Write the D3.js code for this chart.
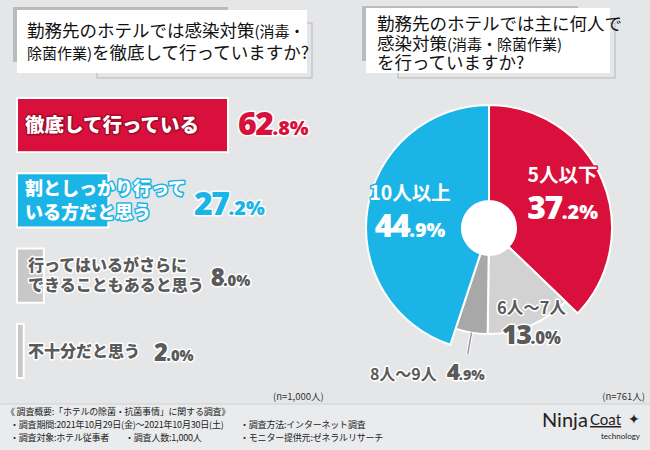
<!DOCTYPE html>
<html><head><meta charset="utf-8">
<script src="https://cdn.jsdelivr.net/npm/d3@7"></script>
<style>
html,body{margin:0;padding:0;background:#e4e6e8;}
svg{display:block;font-family:"Noto Sans CJK JP","Noto Sans",sans-serif;}
</style></head>
<body>
<svg id="chart" width="650" height="450"></svg>
<script>
// ---- data ----
const barCategories = [["徹底して行っている"], ["割としっかり行って","いる方だと思う"], ["行ってはいるがさらに","できることもあると思う"], ["不十分だと思う"]];
const barValues = [62.8, 27.2, 8.0, 2.0];
const pieCategories = ["5人以下", "6人〜7人", "8人〜9人", "10人以上"];
const pieValues = [37.2, 13.0, 4.9, 44.9];
const leftTitle = [["勤務先のホテルでは感染対策", "(消毒・"], ["除菌作業)", "を徹底して行っていますか?"]];
const rightTitle = [["勤務先のホテルでは主に何人で"], ["感染対策", "(消毒・除菌作業)"], ["を行っていますか?"]];
const nLeft = "(n=1,000人)";
const nRight = "(n=761人)";
const footerLines = [
  {x: 6, y: 415, t: "《 調査概要:「ホテルの除菌・抗菌事情」に関する調査》"},
  {x: 10, y: 428, t: "・調査期間:2021年10月29日(金)〜2021年10月30日(土)"},
  {x: 240, y: 428, t: "・調査方法:インターネット調査"},
  {x: 10, y: 441, t: "・調査対象:ホテル従事者"},
  {x: 125, y: 441, t: "・調査人数:1,000人"},
  {x: 240, y: 441, t: "・モニター提供元:ゼネラルリサーチ"}
];

const RED = "#d8103b", BLUE = "#1bb4e6", GRAY_BAR = "#c8c8c8", DARK = "#5a5a5a";
const barColors = [RED, BLUE, GRAY_BAR, GRAY_BAR];
const barTextFill = ["#fff", "#fff", DARK, DARK];
const barTextStroke = ["#a50a2a", BLUE, "#fff", "#fff"];
const valueFill = [RED, BLUE, DARK, DARK];
const pieColors = [RED, "#d2d2d2", "#a8a8a8", BLUE];

const svg = d3.select("#chart");

// footer band
svg.append("rect").attr("x", 0).attr("y", 404).attr("width", 650).attr("height", 46).attr("fill", "#eaebed");
svg.append("line").attr("x1", 0).attr("x2", 650).attr("y1", 404).attr("y2", 404).attr("stroke", "#cfd1d3");

// ---- title boxes ----
function titleBox(g, sh, wb, ol) {
  g.append("rect").attr("x", sh[0]).attr("y", sh[1]).attr("width", sh[2]).attr("height", sh[3]).attr("fill", "#b9bbbd");
  g.append("rect").attr("x", ol[0]).attr("y", ol[1]).attr("width", ol[2]).attr("height", ol[3]).attr("fill", "none").attr("stroke", "#b5b7b9").attr("stroke-width", 1);
  g.append("rect").attr("x", wb[0]).attr("y", wb[1]).attr("width", wb[2]).attr("height", wb[3]).attr("fill", "#fff");
}
const tg = svg.append("g");
titleBox(tg, [13, 7, 215, 55], [17, 10, 290, 63], [97, 23, 215, 55]);
titleBox(tg, [362, 6, 216, 55], [366, 8, 244, 65], [398, 23, 217, 55]);

function titleText(lines, x, ys, size) {
  lines.forEach((parts, i) => {
    const t = svg.append("text").attr("x", x).attr("y", ys[i]).attr("fill", "#111").attr("font-size", size);
    parts.forEach(p => {
      const small = p.startsWith("(") || p.endsWith(")");
      t.append("tspan").attr("font-size", small ? size - 2.5 : size).text(p);
    });
  });
}
titleText(leftTitle, 27, [37, 59], 17.5);
titleText(rightTitle, 377, [30, 50, 69], 17.5);

// ---- bar chart ----
const x = d3.scaleLinear().domain([0, 100]).range([17, 353]);
const y = d3.scaleBand().domain(d3.range(barValues.length)).range([98, 378]).paddingInner(0.28);

const bars = svg.append("g");
bars.selectAll("rect").data(barValues).join("rect")
  .attr("x", x(0)).attr("y", (d, i) => y(i))
  .attr("width", d => x(d) - x(0)).attr("height", y.bandwidth())
  .attr("fill", (d, i) => barColors[i]).attr("stroke", "#fff").attr("stroke-width", 2);

barValues.forEach((v, i) => {
  const lines = barCategories[i];
  const cy = y(i) + y.bandwidth() / 2;
  const fs = i === 0 ? 19.5 : (i === 1 ? 18 : 16);
  const lh = i === 1 ? 24 : 20;
  const t = svg.append("text")
    .attr("font-size", fs).attr("font-weight", 900)
    .attr("fill", barTextFill[i]).attr("stroke", barTextStroke[i])
    .attr("stroke-width", 3).attr("stroke-linejoin", "round")
    .attr("paint-order", "stroke");
  const x0 = i < 2 ? 25 : 28;
  lines.forEach((l, k) => {
    t.append("tspan").attr("x", x0)
      .attr("y", cy + (k - (lines.length - 1) / 2) * lh + fs * 0.36)
      .text(l);
  });
  const labelEnd = x0 + t.node().getBBox().width;
  const gap = i === 0 ? 10 : (i === 1 ? 8 : (i === 2 ? 7 : 14));
  const vx = Math.max(labelEnd, x(v)) + gap;
  const parts = v.toFixed(1).split(".");
  const vt = svg.append("text").attr("x", vx).attr("y", cy + (i === 1 ? 15 : 10))
    .attr("fill", valueFill[i]).attr("font-family", "'Open Sans','Noto Sans',sans-serif")
    .attr("font-weight", 800).attr("stroke", "#fff").attr("stroke-width", 3)
    .attr("stroke-linejoin", "round").attr("paint-order", "stroke");
  const big = i < 2 ? 32 : 24;
  vt.append("tspan").attr("font-size", big).attr("letter-spacing", -1.5).text(parts[0]);
  vt.append("tspan").attr("font-size", big * 0.62).text("." + parts[1] + "%");
});

svg.append("text").attr("x", 273).attr("y", 400).attr("font-size", 9.5).attr("fill", "#333").text(nLeft);

// ---- pie chart ----
const cx = 489, cy = 228;
const pg = svg.append("g").attr("transform", `translate(${cx},${cy})`);
const pie = d3.pie().sort(null).value(d => d);
const arcs = pie(pieValues);
const outerR = i => (i === 0 || i === 3) ? 123 : 106;
const arc = d3.arc().innerRadius(27).outerRadius((d) => outerR(d.index));
pg.selectAll("path").data(arcs).join("path")
  .attr("d", arc).attr("fill", (d, i) => pieColors[i])
  .attr("stroke", "#fff").attr("stroke-width", 2).attr("stroke-linejoin", "miter");
pg.append("circle").attr("r", 27).attr("fill", "#fff");

// labels
const labelR = [80, 110, 0, 80];
const pFill = ["#fff", DARK, DARK, "#fff"];
const pStroke = [RED, "#fff", "#fff", BLUE];
function pctText(g, v, xx, yy, anchor, fill, stroke, big) {
  const parts = v.toFixed(1).split(".");
  const t = g.append("text").attr("x", xx).attr("y", yy).attr("text-anchor", anchor)
    .attr("fill", fill).attr("stroke", stroke).attr("stroke-width", 3).attr("stroke-linejoin", "round")
    .attr("paint-order", "stroke").attr("font-family", "'Open Sans','Noto Sans',sans-serif").attr("font-weight", 800);
  t.append("tspan").attr("font-size", big).attr("letter-spacing", -1.5).text(parts[0]);
  t.append("tspan").attr("font-size", big * 0.62).text("." + parts[1] + "%");
  return t;
}
arcs.forEach((d, i) => {
  const a = (d.startAngle + d.endAngle) / 2;
  if (i === 2) {
    const r1 = outerR(i), r2 = 128;
    pg.append("line").attr("x1", r1 * Math.sin(a)).attr("y1", -r1 * Math.cos(a))
      .attr("x2", r2 * Math.sin(a)).attr("y2", -r2 * Math.cos(a))
      .attr("stroke", "#fff").attr("stroke-width", 3.5);
    pg.append("line").attr("x1", r1 * Math.sin(a)).attr("y1", -r1 * Math.cos(a))
      .attr("x2", r2 * Math.sin(a)).attr("y2", -r2 * Math.cos(a))
      .attr("stroke", "#9a9a9a").attr("stroke-width", 1.5);
    const lx = r2 * Math.sin(a) - 31, ly = -r2 * Math.cos(a) + 26;
    pg.append("text").attr("x", lx).attr("y", ly).attr("text-anchor", "end")
      .attr("font-size", 16).attr("font-weight", 700).attr("fill", DARK)
      .attr("stroke", "#fff").attr("stroke-width", 3).attr("paint-order", "stroke").attr("stroke-linejoin", "round")
      .text(pieCategories[i]);
    pctText(pg, d.data, lx + 10, ly, "start", DARK, "#fff", 23);
    return;
  }
  const r = labelR[i];
  const px = r * Math.sin(a), py = -r * Math.cos(a);
  const big = i === 1 ? 27 : 32;
  const fs = i === 1 ? 16.5 : 19.5;
  pg.append("text").attr("x", px).attr("y", py - 15).attr("text-anchor", "middle")
    .attr("font-size", fs).attr("font-weight", 700).attr("fill", pFill[i])
    .attr("stroke", pStroke[i]).attr("stroke-width", 3).attr("paint-order", "stroke").attr("stroke-linejoin", "round")
    .text(pieCategories[i]);
  pctText(pg, d.data, px, py + (i === 1 ? 15 : 22), "middle", pFill[i], pStroke[i], big);
});

svg.append("text").attr("x", 645).attr("y", 400).attr("text-anchor", "end").attr("font-size", 9.5).attr("fill", "#333").text(nRight);

// ---- footer ----
svg.append("g").selectAll("text").data(footerLines).join("text")
  .attr("x", d => d.x).attr("y", d => d.y).attr("font-size", 9).attr("letter-spacing", -0.2).attr("fill", "#222")
  .text(d => d.t);

const logo = svg.append("g");
logo.append("text").attr("x", 542).attr("y", 427).attr("font-family", "Lato,'Open Sans',sans-serif")
  .attr("font-size", 20).attr("fill", "#222").text("Ninja");
logo.append("text").attr("x", 590).attr("y", 425).attr("font-family", "Lato,'Open Sans',sans-serif")
  .attr("font-size", 15).attr("fill", "#222").attr("text-decoration", "underline").text("Coat");
logo.append("text").attr("x", 628).attr("y", 424).attr("font-size", 14).attr("fill", "#222").text("✦");
logo.append("text").attr("x", 640).attr("y", 439).attr("text-anchor", "end").attr("font-family", "Lato,'Open Sans',sans-serif")
  .attr("font-size", 8).attr("fill", "#222").text("technology");
</script>
</body></html>
